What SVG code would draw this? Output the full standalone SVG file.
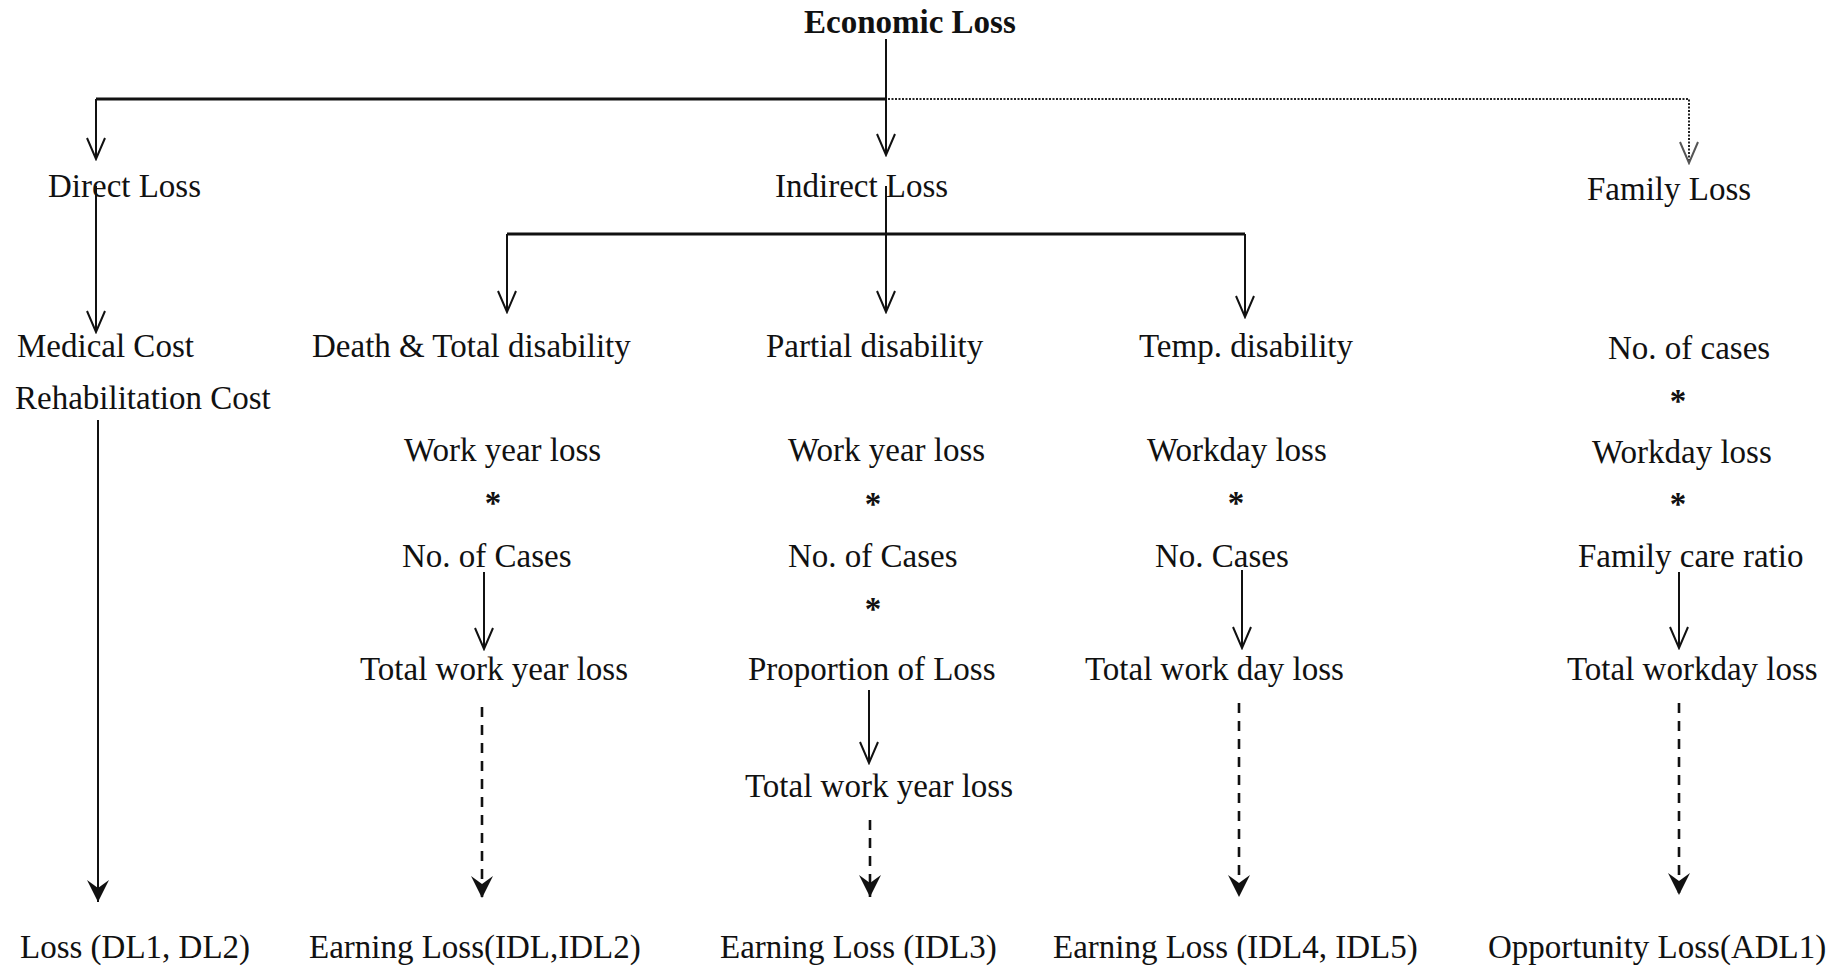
<svg xmlns="http://www.w3.org/2000/svg" width="1846" height="968" viewBox="0 0 1846 968">
<style>
text{font-family:"Liberation Serif","Times New Roman",serif;font-size:33px;fill:#111}
.b{font-weight:bold}
.m{text-anchor:middle;font-weight:bold}
.ln{stroke:#111;stroke-width:2;fill:none}
.hz{stroke:#111;stroke-width:3;fill:none}
.dot{stroke:#222;stroke-width:2;stroke-dasharray:2 1.5;fill:none}
.dash{stroke:#111;stroke-width:2.6;stroke-dasharray:10 8;fill:none}
</style>
<defs>
<marker id="v" markerUnits="userSpaceOnUse" viewBox="-23 -11 25 22" markerWidth="25" markerHeight="22" refX="0" refY="0" orient="auto">
<path d="M-21,-9 L0,0 L-21,9" fill="none" stroke="#111" stroke-width="2"/>
</marker>
<marker id="vg" markerUnits="userSpaceOnUse" viewBox="-23 -11 25 22" markerWidth="25" markerHeight="22" refX="0" refY="0" orient="auto">
<path d="M-21,-9 L0,0 L-21,9" fill="none" stroke="#555" stroke-width="2"/>
</marker>
<marker id="f" markerUnits="userSpaceOnUse" viewBox="-24 -12 26 24" markerWidth="26" markerHeight="24" refX="0" refY="0" orient="auto">
<path d="M0,0 L-22,-11 L-14,0 L-22,11 Z" fill="#111"/>
</marker>
</defs>

<g id="connectors">
<path class="ln" d="M886,39 V155" marker-end="url(#v)"/>
<path class="hz" d="M96,99 H886"/>
<path class="ln" d="M96,99 V159" marker-end="url(#v)"/>
<path class="dot" d="M888,99 H1689 V163" marker-end="url(#vg)"/>
<path class="ln" d="M96,186 V332" marker-end="url(#v)"/>
<path class="ln" d="M886,186 V312" marker-end="url(#v)"/>
<path class="hz" d="M507,234 H1245"/>
<path class="ln" d="M507,234 V312" marker-end="url(#v)"/>
<path class="ln" d="M1245,234 V317" marker-end="url(#v)"/>
<path class="ln" d="M98,420 V902" marker-end="url(#f)"/>
<path class="ln" d="M484,572 V649" marker-end="url(#v)"/>
<path class="dash" d="M482,707 V898" marker-end="url(#f)"/>
<path class="ln" d="M869,690 V763" marker-end="url(#v)"/>
<path class="dash" d="M870,820 V897" marker-end="url(#f)"/>
<path class="ln" d="M1242,570 V648" marker-end="url(#v)"/>
<path class="dash" d="M1239,703 V897" marker-end="url(#f)"/>
<path class="ln" d="M1679,572 V648" marker-end="url(#v)"/>
<path class="dash" d="M1679,703 V895" marker-end="url(#f)"/>
</g>

<g id="economic-loss"><text class="b" x="804" y="33">Economic Loss</text></g>
<g id="direct-loss"><text x="48" y="197">Direct Loss</text></g>
<g id="indirect-loss"><text x="775" y="197">Indirect Loss</text></g>
<g id="family-loss"><text x="1587" y="200">Family Loss</text></g>

<g id="direct-costs">
<text x="17" y="357">Medical Cost</text>
<text x="15" y="409">Rehabilitation Cost</text>
</g>
<g id="direct-result"><text x="20" y="958">Loss (DL1, DL2)</text></g>

<g id="death-total">
<text x="312" y="357">Death &amp; Total disability</text>
<text x="404" y="461">Work year loss</text>
<text class="m" x="493" y="514">*</text>
<text x="402" y="567">No. of Cases</text>
</g>
<g id="death-total-sum"><text x="360" y="680">Total work year loss</text></g>
<g id="death-total-result"><text x="309" y="958">Earning Loss(IDL,IDL2)</text></g>

<g id="partial">
<text x="766" y="357">Partial disability</text>
<text x="788" y="461">Work year loss</text>
<text class="m" x="873" y="515">*</text>
<text x="788" y="567">No. of Cases</text>
<text class="m" x="873" y="620">*</text>
<text x="748" y="680">Proportion of Loss</text>
</g>
<g id="partial-sum"><text x="745" y="797">Total work year loss</text></g>
<g id="partial-result"><text x="720" y="958">Earning Loss (IDL3)</text></g>

<g id="temp">
<text x="1139" y="357">Temp. disability</text>
<text x="1147" y="461">Workday loss</text>
<text class="m" x="1236" y="514">*</text>
<text x="1155" y="567">No. Cases</text>
</g>
<g id="temp-sum"><text x="1085" y="680">Total work day loss</text></g>
<g id="temp-result"><text x="1053" y="958">Earning Loss (IDL4, IDL5)</text></g>

<g id="family">
<text x="1608" y="359">No. of cases</text>
<text class="m" x="1678" y="412">*</text>
<text x="1592" y="463">Workday loss</text>
<text class="m" x="1678" y="515">*</text>
<text x="1578" y="567">Family care ratio</text>
</g>
<g id="family-sum"><text x="1567" y="680">Total workday loss</text></g>
<g id="family-result"><text x="1488" y="958">Opportunity Loss(ADL1)</text></g>
</svg>
